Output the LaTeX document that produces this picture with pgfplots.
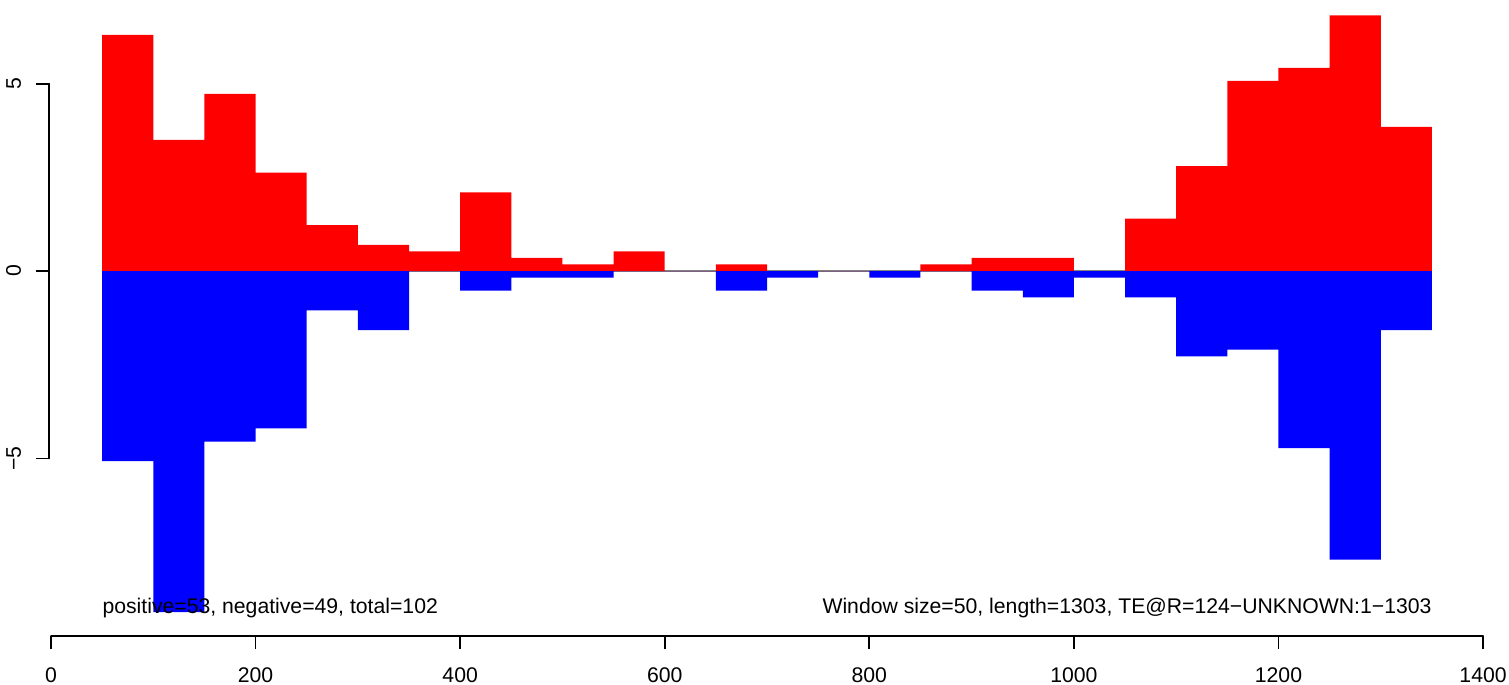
\documentclass[border=0pt]{standalone}
\usepackage{fontspec}
\setmainfont{Liberation Sans}
\usepackage{pgfplots}
\pgfplotsset{compat=1.18}
\begin{document}
\fontsize{10.6}{12.7}\selectfont
\begin{tikzpicture}
\useasboundingbox (-24.48pt,-24pt) rectangle (730pt,318pt);
\begin{axis}[
  at={(0pt,0pt)}, anchor=south west,
  scale only axis,
  width=718.05pt, height=318pt,
  xmin=-2, xmax=1402, ymin=-9.74, ymax=7.234,
  axis x line*=bottom, axis y line*=left,
  axis line style={draw=none},
  xtick={0,200,400,600,800,1000,1200,1400},
  xticklabels={0,200,400,600,800,1000,1200,1400},
  ytick={-5,0,5}, yticklabels={−5,0,5},
  tick align=outside, major tick length=6.6pt,
  tick style={black, line width=0.9pt},
  xticklabel style={anchor=base, yshift=-16.4pt, inner sep=0pt},
  yticklabel style={xshift=-7.4pt, rotate=90, anchor=base, inner sep=0pt},
  clip=false,
]
\addplot[color=gray, line width=0.6pt] coordinates {(50,0) (1350,0)};
\addplot[const plot, fill=red, draw=none] coordinates {
(50,6.3) (100,3.5) (150,4.725) (200,2.625) (250,1.225) (300,0.7) (350,0.525)
(400,2.1) (450,0.35) (500,0.175) (550,0.525) (600,0) (650,0.175) (700,0)
(750,0) (800,0) (850,0.175) (900,0.35) (950,0.35) (1000,0) (1050,1.4)
(1100,2.8) (1150,5.075) (1200,5.425) (1250,6.825) (1300,3.85) (1350,3.85)} \closedcycle;
\addplot[const plot, fill=blue, draw=none] coordinates {
(50,-5.075) (100,-9.1) (150,-4.55) (200,-4.2) (250,-1.05) (300,-1.575) (350,0)
(400,-0.525) (450,-0.175) (500,-0.175) (550,0) (600,0) (650,-0.525) (700,-0.175)
(750,0) (800,-0.175) (850,0) (900,-0.525) (950,-0.7) (1000,-0.175) (1050,-0.7)
(1100,-2.275) (1150,-2.1) (1200,-4.725) (1250,-7.7) (1300,-1.575) (1350,-1.575)} \closedcycle;
\draw[line width=0.9pt, line cap=round] (axis cs:0,-9.74) -- (axis cs:1400,-9.74);
\draw[line width=0.9pt, line cap=round] (axis cs:-2,-5) -- (axis cs:-2,5);
\node[anchor=base west, inner sep=0pt] at (axis cs:50,-9.13) {positive=53, negative=49, total=102};
\node[anchor=base east, inner sep=0pt] at (axis cs:1350,-9.13) {Window size=50, length=1303, TE@R=124−UNKNOWN:1−1303};
\end{axis}
\end{tikzpicture}
\end{document}
